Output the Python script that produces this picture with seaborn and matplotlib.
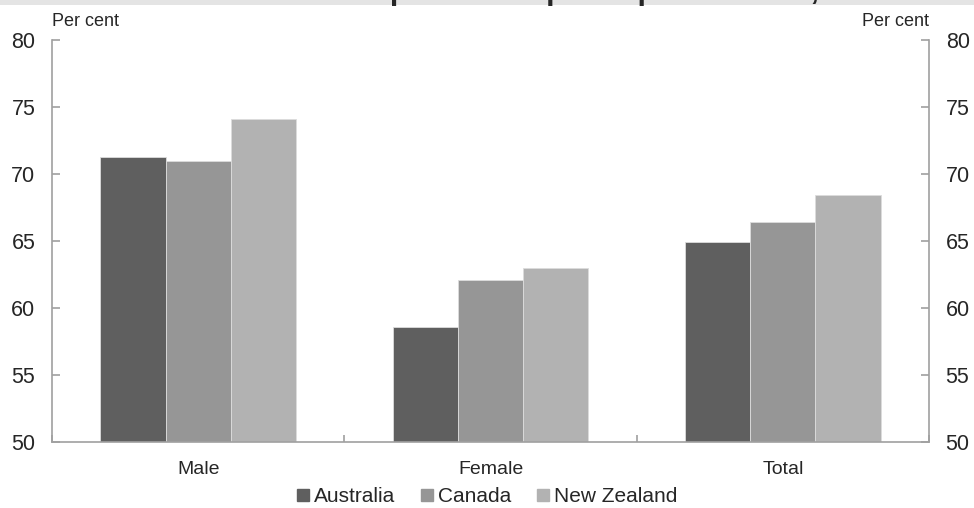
import matplotlib
matplotlib.use("Agg")
import matplotlib.pyplot as plt
from matplotlib.lines import Line2D
from matplotlib.patches import Rectangle
import pandas as pd
import seaborn as sns

# Data (per cent)
categories = ["Male", "Female", "Total"]
countries = ["Australia", "Canada", "New Zealand"]
australia = [71.3, 58.6, 64.9]
canada = [71.0, 62.1, 66.4]
new_zealand = [74.1, 63.0, 68.4]
colors = ["#5f5f5f", "#969696", "#b2b2b2"]

df = pd.DataFrame({
    "group": categories * 3,
    "country": [c for c in countries for _ in categories],
    "value": australia + canada + new_zealand,
})

sns.set_style("white")
plt.rcParams["font.family"] = ["Liberation Sans", "DejaVu Sans"]

fig = plt.figure(figsize=(9.74, 5.08), dpi=100)
ax = fig.add_axes([52 / 974, 1 - 442 / 508, 877 / 974, 402 / 508])

sns.barplot(data=df, x="group", y="value", hue="country", palette=colors,
            width=0.67, edgecolor="#dcdcdc", linewidth=0.6, ax=ax, legend=False)

ax.set_ylim(50, 80)
ax.set_yticks(range(50, 81, 5))
ax.set_xlim(-0.5, 2.5)
ax.set_xticks([-0.5, 0.5, 1.5, 2.5], minor=True)
ax.set_xlabel("")
ax.set_ylabel("")

spine_c = "#a0a0a0"
for side in ["left", "right", "bottom"]:
    ax.spines[side].set_color(spine_c)
    ax.spines[side].set_linewidth(1.2)
ax.spines["top"].set_visible(False)

ax.tick_params(axis="y", direction="in", length=6, width=1.2, color=spine_c,
               left=True, right=True, labelleft=True, labelright=True,
               labelsize=15.5, pad=12)
ax.tick_params(axis="x", which="major", length=0, labelsize=14, pad=14)
ax.tick_params(axis="x", which="minor", direction="in", length=5, width=1.2,
               color=spine_c, bottom=True)

fig.text(52 / 974, 1 - 22 / 508, "Per cent", ha="left", va="center", fontsize=13)
fig.text(929 / 974, 1 - 22 / 508, "Per cent", ha="right", va="center", fontsize=13)

# clipped title band at the very top
fig.patches.append(Rectangle((0, 1 - 5 / 508), 1, 5 / 508, transform=fig.transFigure,
                             facecolor="#e4e4e4", edgecolor="none", zorder=0))
fig.text(322 / 974, 1 + 1.5 / 508, "Comparison of participation rates, 2011",
         ha="left", va="baseline", fontsize=22, fontweight="bold")

handles = [Line2D([], [], marker="s", linestyle="", markersize=8.5,
                  markerfacecolor=c, markeredgecolor=c) for c in colors]
fig.legend(handles, countries, loc="center", bbox_to_anchor=(0.5, 1 - 497 / 508),
           ncol=3, frameon=False, fontsize=15, handletextpad=0.2,
           columnspacing=1.25, handlelength=0.6)

fig.savefig("out.png", dpi=100)
